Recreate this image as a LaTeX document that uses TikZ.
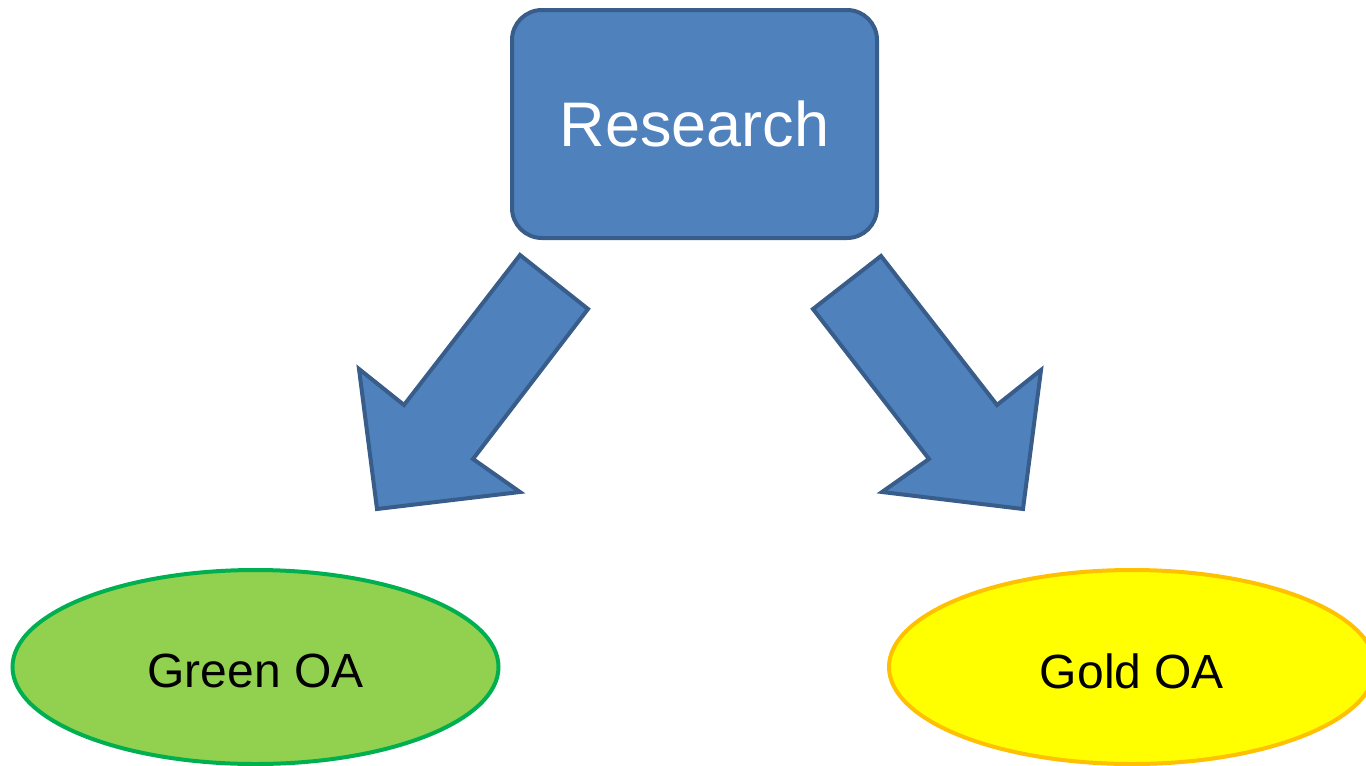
\documentclass[tikz,border=0pt]{standalone}
\usepackage{fontspec}
\setmainfont{Liberation Sans}
\usetikzlibrary{shapes.geometric}
\definecolor{boxfill}{HTML}{4F81BD}
\definecolor{boxline}{HTML}{385D8A}
\definecolor{greenfill}{HTML}{92D050}
\definecolor{greenline}{HTML}{00B050}
\definecolor{goldfill}{HTML}{FFFF00}
\definecolor{goldline}{HTML}{FFC000}
\tikzset{
  resbox/.style={draw=boxline, fill=boxfill, line width=4pt, rounded corners=30pt,
    minimum width=365pt, minimum height=228pt, inner sep=0pt, text=white,
    font=\fontsize{63}{70}\selectfont},
  oaell/.style={ellipse, line width=4pt, minimum width=486pt, minimum height=194pt, inner sep=0pt},
  oatext/.style={font=\fontsize{48}{56}\selectfont, text=black, inner sep=0pt},
  blockarrow/.style={draw=boxline, fill=boxfill, line width=4pt, line join=miter}
}
\begin{document}
\begin{tikzpicture}[x=1pt, y=-1pt]
\useasboundingbox (0,0) rectangle (1366,766);
\clip (0,0) rectangle (1366,766);
\node[resbox] (res) at (694.5,124) {Research};
% block arrows
\draw[blockarrow] (520,255) -- (588,309) -- (473,459) -- (520,492) -- (377,509) -- (359,369) -- (404,405) -- cycle;
\draw[blockarrow] (881,256) -- (813,309) -- (929,459) -- (882,492) -- (1023,509) -- (1041,370) -- (997,405) -- cycle;
% ellipses
\node[oaell, draw=greenline, fill=greenfill] (green) at (255.5,667) {};
\node[oatext] (greentext) at ([yshift=-4pt]green.center) {Green OA};
\node[oaell, draw=goldline, fill=goldfill] (gold) at (1132,667) {};
\node[oatext] (goldtext) at ([yshift=-4pt]gold.center) {Gold OA};
\end{tikzpicture}
\end{document}
